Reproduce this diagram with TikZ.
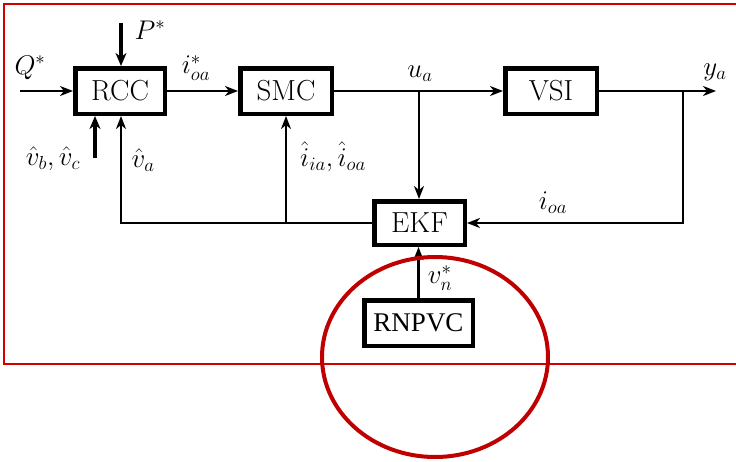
\RequirePackage{fix-cm}
\documentclass[tikz,border=0pt]{standalone}
\usepackage{fontspec}
\newfontfamily\timesfont{Liberation Serif}
\usetikzlibrary{arrows.meta}
\definecolor{framered}{HTML}{D40000}
\definecolor{ellred}{HTML}{C00000}
\begin{document}
\begin{tikzpicture}[x=1pt,y=-1pt,
  blk/.style={draw,line width=4.5pt,inner sep=0pt,minimum height=45.5pt,font=\fontsize{29}{34}\selectfont},
  sig/.style={line width=2.2pt,-{Stealth[length=13pt,width=10pt,inset=4pt]}},
  thk/.style={line width=4pt,-{Stealth[length=13pt,width=11pt,inset=4pt]}},
  lbl/.style={inner sep=0pt,font=\fontsize{27}{32}\selectfont}]
\useasboundingbox (0,0) rectangle (736,461);
% frame
\draw[framered,line width=1.8pt] (740,4) -- (4,4) -- (4,364) -- (740,364);
% blocks
\node[blk,minimum width=89.5pt] (rcc) at (120,91) {RCC};
\node[blk,minimum width=91.5pt] (smc) at (286,91) {SMC};
\node[blk,minimum width=91.5pt] (vsi) at (551,91) {VSI};
\node[blk,minimum width=90.5pt,minimum height=43.5pt] (ekf) at (419.5,223) {EKF};
\node[blk,minimum width=108.5pt,font=\timesfont\fontsize{27}{32}\selectfont] (rnp) at (418.5,323) {RNPVC};
% coordinates
\coordinate (qin) at (20,91);
\coordinate (pin) at (121,23);
\coordinate (vbin) at (95,158);
\coordinate (ua) at (419,91);
\coordinate (ya) at (683,91);
\coordinate (yout) at (716,91);
\coordinate (fb) at (121,223);
\coordinate (fs) at (286,223);
% connectors
\draw[sig] (qin) -- (rcc.west);
\draw[thk] (pin) -- (pin |- rcc.north);
\draw[thk] (vbin) -- (vbin |- rcc.south);
\draw[sig] (rcc) -- (smc);
\draw[sig] (smc) -- (vsi);
\draw[sig] (ua) -- (ua |- ekf.north);
\draw[sig] (vsi) -- (yout);
\draw[sig] (ya) -- (ya |- ekf) -- (ekf.east);
\draw[sig] (ekf.west) -- (fb) -- (fb |- rcc.south);
\draw[sig] (fs) -- (smc.south);
\draw[sig] (rnp.north) -- (rnp.north |- ekf.south);
% labels
\node[lbl] (lq) at (30,68) {$Q^*$};
\node[lbl] (lp) at (150,30) {$P^*$};
\node[lbl] (lvb) at (53,159) {$\hat{v}_b,\hat{v}_c$};
\node[lbl] (lva) at (143,160) {$\hat{v}_a$};
\node[lbl] (lii) at (333,157) {$\hat{i}_{ia},\hat{i}_{oa}$};
\node[lbl] (lio) at (196,68) {$i^*_{oa}$};
\node[lbl] (lua) at (420,74) {$u_a$};
\node[lbl] (lya) at (715,72) {$y_a$};
\node[lbl] (lioa) at (553,203) {$i_{oa}$};
\node[lbl] (lvn) at (440,278) {$v_n^*$};
% ellipse
\draw[ellred,line width=4pt] (435,357) ellipse [x radius=113, y radius=100];
\end{tikzpicture}
\end{document}
